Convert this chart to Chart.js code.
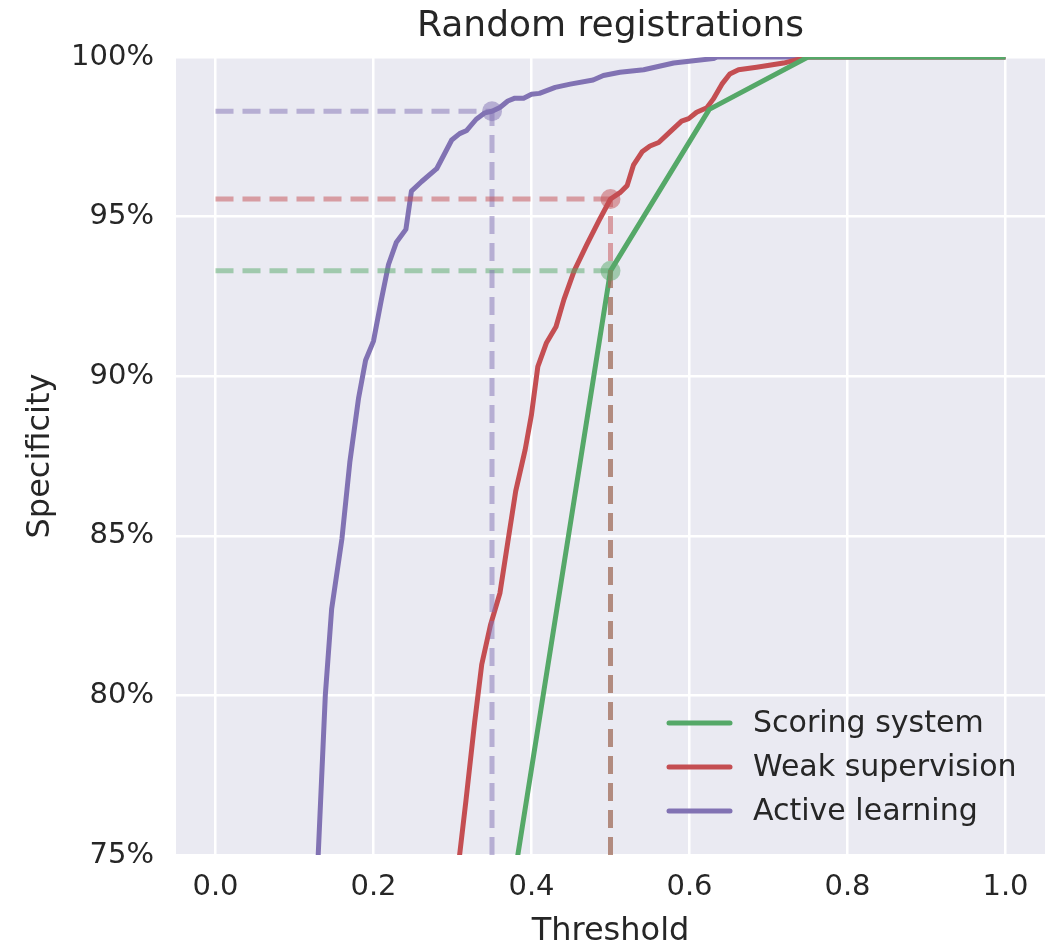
<!DOCTYPE html>
<html>
<head>
<meta charset="utf-8">
<script src="https://cdn.jsdelivr.net/npm/chart.js@4"></script>
<style>
  html, body { margin: 0; padding: 0; background: #fff; }
</style>
</head>
<body>
<canvas id="rocChart" width="1056" height="948"></canvas>
<script>
const chartTitle = "Random registrations";
const seriesLabels = ["Scoring system", "Weak supervision", "Active learning"];
const seriesColors = ["#55A868", "#C44E52", "#8172B3"];
const guideColors = ["rgba(85,168,104,0.5)", "rgba(196,78,82,0.5)", "rgba(129,114,179,0.5)"];

const scoringThreshold = [0.375, 0.5, 0.625, 0.75, 0.875, 1.0];
const scoringSpecificity = [73.8, 93.3, 98.36, 100, 100, 100];

const weakThreshold = [0.30, 0.309, 0.317, 0.328, 0.337, 0.348, 0.36, 0.37, 0.38, 0.392, 0.4, 0.408, 0.419, 0.431, 0.441, 0.454, 0.47, 0.487, 0.5, 0.512, 0.521, 0.529, 0.54, 0.55, 0.561, 0.576, 0.59, 0.599, 0.609, 0.622, 0.63, 0.641, 0.651, 0.662, 0.685, 0.719, 0.75, 1.0];
const weakSpecificity = [73.3, 75, 76.7, 79.15, 80.97, 82.2, 83.2, 84.8, 86.4, 87.7, 88.8, 90.3, 91.05, 91.55, 92.4, 93.3, 94.12, 94.95, 95.55, 95.75, 95.97, 96.61, 97.03, 97.21, 97.32, 97.67, 97.99, 98.07, 98.27, 98.41, 98.68, 99.15, 99.47, 99.6, 99.68, 99.81, 100, 100];

const activeThreshold = [0.12, 0.13, 0.139, 0.147, 0.16, 0.17, 0.181, 0.19, 0.2, 0.21, 0.219, 0.229, 0.241, 0.248, 0.261, 0.28, 0.299, 0.309, 0.318, 0.33, 0.341, 0.35, 0.36, 0.37, 0.379, 0.39, 0.4, 0.41, 0.43, 0.449, 0.478, 0.491, 0.512, 0.542, 0.58, 0.605, 0.63, 0.635, 1.0];
const activeSpecificity = [70, 75, 80, 82.7, 84.9, 87.3, 89.3, 90.5, 91.1, 92.4, 93.5, 94.2, 94.6, 95.8, 96.1, 96.5, 97.4, 97.6, 97.7, 98.05, 98.25, 98.3, 98.42, 98.62, 98.71, 98.71, 98.83, 98.86, 99.05, 99.15, 99.28, 99.42, 99.52, 99.6, 99.81, 99.88, 99.95, 100, 100];

// chosen operating point per series (same order as seriesLabels)
const cutoffThreshold = [0.5, 0.5, 0.35];
const cutoffSpecificity = [93.3, 95.55, 98.3];

const xTicks = [0.0, 0.2, 0.4, 0.6, 0.8, 1.0];
const yTicks = [75, 80, 85, 90, 95, 100];
const xMin = -0.05, xMax = 1.05, yMin = 75, yMax = 100;

const toPoints = (xs, ys) => xs.map((x, i) => ({ x: x, y: ys[i] }));
const curves = [
    toPoints(scoringThreshold, scoringSpecificity),
    toPoints(weakThreshold, weakSpecificity),
    toPoints(activeThreshold, activeSpecificity)
];

// lower order is painted on top; red guide sits over the green one
const guideOrder = [2.6, 2.2, 2.4];

const datasets = [];
curves.forEach((pts, i) => {
    datasets.push({
        label: seriesLabels[i],
        data: pts,
        borderColor: seriesColors[i],
        borderWidth: 5,
        pointRadius: 0,
        borderJoinStyle: "round",
        clip: 0,
        order: 3
    });
});
cutoffThreshold.forEach((t, i) => {
    const s = cutoffSpecificity[i];
    const guide = {
        borderColor: guideColors[i],
        borderWidth: 5,
        borderDash: [18, 9],
        pointRadius: 0,
        order: guideOrder[i]
    };
    datasets.push(Object.assign({ label: "guide-h", data: [{ x: 0, y: s }, { x: t, y: s }] }, guide));
    datasets.push(Object.assign({ label: "guide-v", data: [{ x: t, y: yMin }, { x: t, y: s }] }, guide));
    datasets.push({
        label: "cutoff",
        data: [{ x: t, y: s }],
        showLine: false,
        pointRadius: 10,
        pointBorderWidth: 0,
        pointBackgroundColor: guideColors[i],
        pointBorderColor: guideColors[i],
        order: 1
    });
});

const plotBackground = {
    id: "plotBackground",
    beforeDraw(chart) {
        const { ctx, chartArea: a } = chart;
        ctx.save();
        ctx.fillStyle = "#ffffff";
        ctx.fillRect(0, 0, chart.width, chart.height);
        ctx.fillStyle = "#EAEAF2";
        ctx.fillRect(a.left, a.top, a.right - a.left, a.bottom - a.top);
        ctx.restore();
    }
};

// title centred over the plot area, legend in the lower right (matplotlib style)
const plotDecor = {
    id: "plotDecor",
    afterDraw(chart) {
        const { ctx, chartArea: a } = chart;
        ctx.save();
        ctx.fillStyle = "#262626";
        ctx.font = "36px 'DejaVu Sans'";
        ctx.textAlign = "center";
        ctx.textBaseline = "middle";
        ctx.fillText(chartTitle, (a.left + a.right) / 2, a.top - 30);

        ctx.font = "30px 'DejaVu Sans'";
        ctx.textAlign = "left";
        ctx.lineCap = "round";
        seriesLabels.forEach((lbl, i) => {
            const y = a.bottom - 132 + i * 44;
            ctx.strokeStyle = seriesColors[i];
            ctx.lineWidth = 5;
            ctx.beginPath();
            ctx.moveTo(a.right - 376, y);
            ctx.lineTo(a.right - 315, y);
            ctx.stroke();
            ctx.fillStyle = "#262626";
            ctx.fillText(lbl, a.right - 292, y + 1);
        });
        ctx.restore();
    }
};

new Chart(document.getElementById("rocChart"), {
    type: "line",
    data: { datasets: datasets },
    plugins: [plotBackground, plotDecor],
    options: {
        responsive: false,
        animation: false,
        devicePixelRatio: 1,
        layout: { padding: { left: 0, right: 11, top: 57, bottom: 0 } },
        plugins: {
            legend: { display: false },
            tooltip: { enabled: false },
            title: { display: false }
        },
        scales: {
            x: {
                type: "linear",
                min: xMin,
                max: xMax,
                afterBuildTicks: scale => { scale.ticks = xTicks.map(v => ({ value: v })); },
                afterFit: scale => { scale.height = 93; },
                border: { display: false },
                grid: { color: "#ffffff", lineWidth: 2.5, drawTicks: false },
                ticks: {
                    padding: 15,
                    color: "#262626",
                    font: { family: "DejaVu Sans", size: 29 },
                    maxRotation: 0,
                    callback: v => v.toFixed(1)
                },
                title: {
                    display: true,
                    text: "Threshold",
                    color: "#262626",
                    font: { family: "DejaVu Sans", size: 32, lineHeight: 1.05 },
                    padding: { top: 0, bottom: 0 }
                }
            },
            y: {
                type: "linear",
                min: yMin,
                max: yMax,
                afterBuildTicks: scale => { scale.ticks = yTicks.map(v => ({ value: v })); },
                afterFit: scale => { scale.width = 176; },
                border: { display: false },
                grid: { color: "#ffffff", lineWidth: 2.5, drawTicks: false },
                ticks: {
                    padding: 22,
                    color: "#262626",
                    font: { family: "DejaVu Sans", size: 29 },
                    callback: v => v + "%"
                },
                title: {
                    display: true,
                    text: "Specificity",
                    color: "#262626",
                    font: { family: "DejaVu Sans", size: 32 },
                    padding: { top: 21, bottom: 0 }
                }
            }
        }
    }
});
</script>
</body>
</html>
